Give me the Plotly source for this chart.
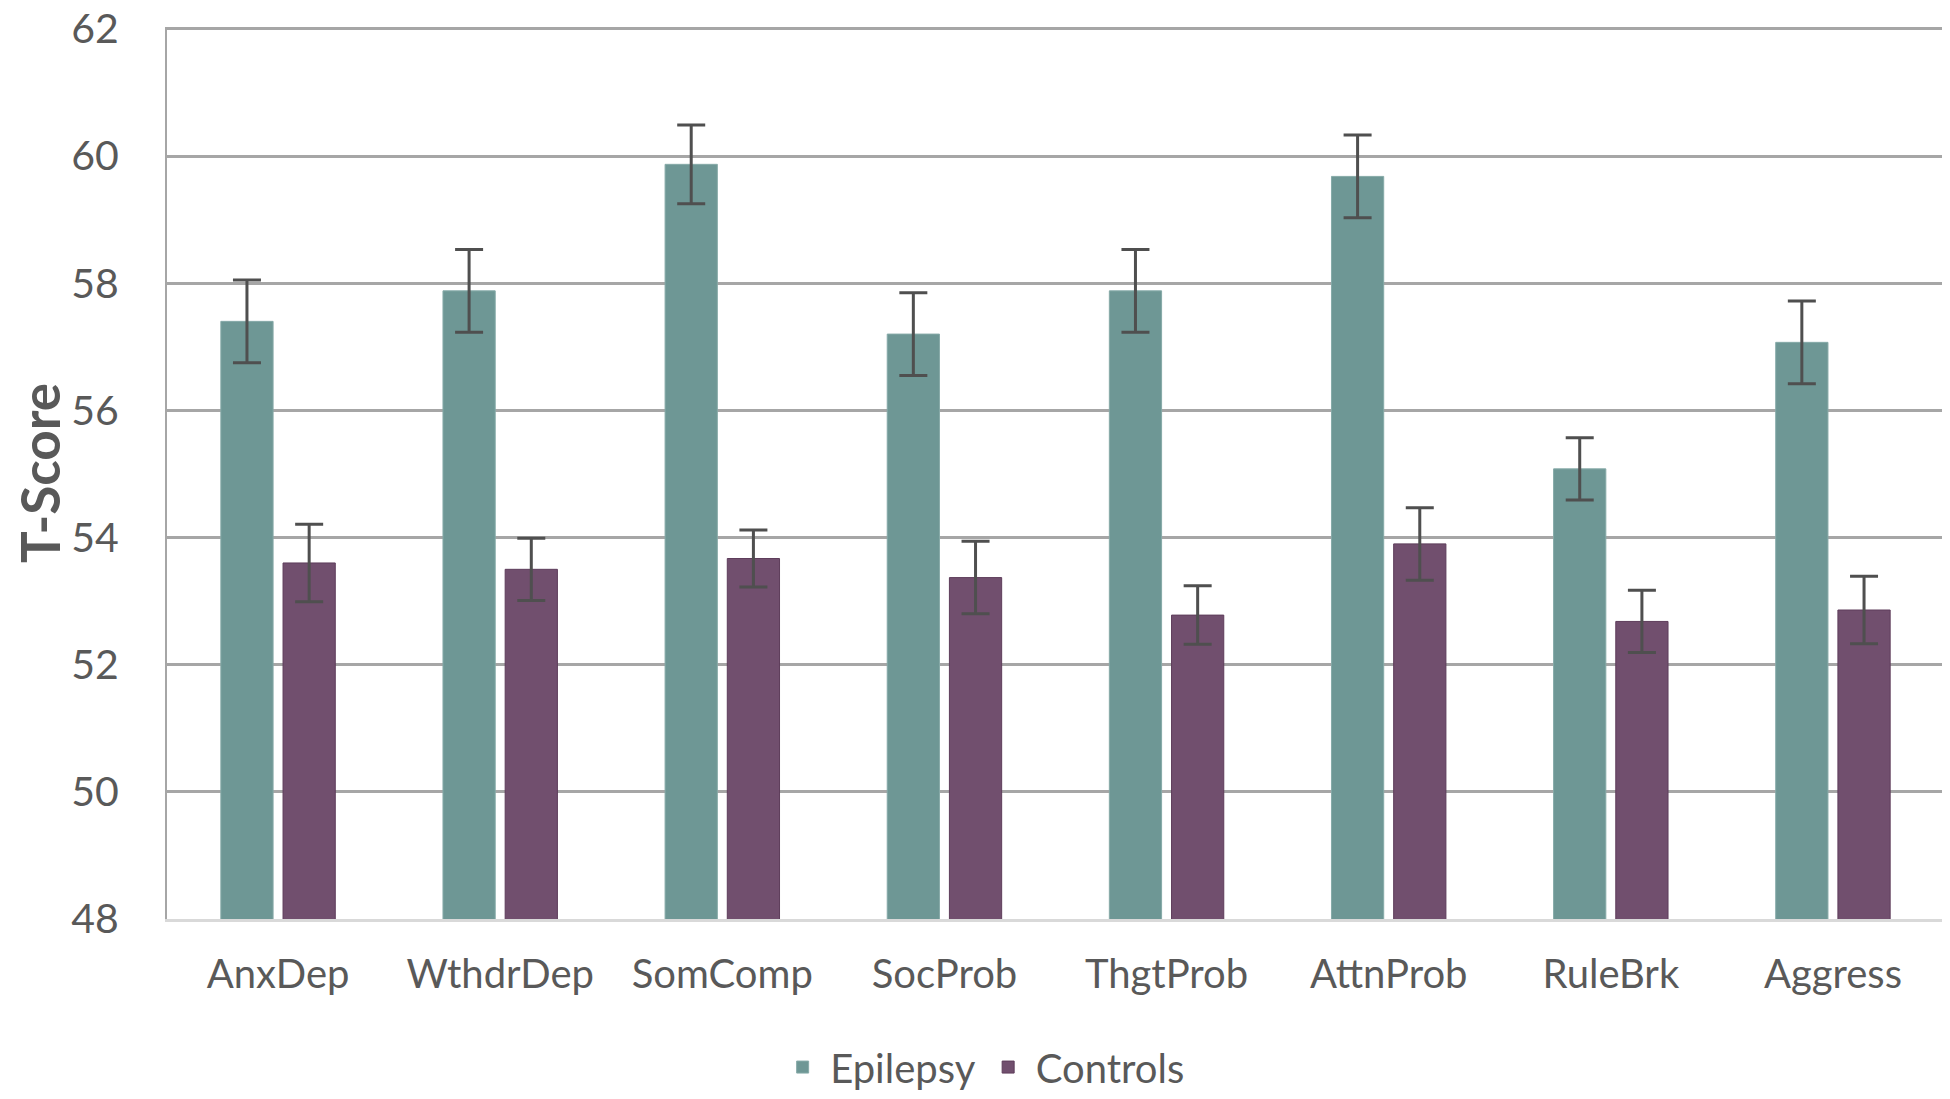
import plotly.graph_objects as go

categories = ["AnxDep", "WthdrDep", "SomComp", "SocProb", "ThgtProb", "AttnProb", "RuleBrk", "Aggress"]
epilepsy = [57.40, 57.88, 59.87, 57.20, 57.88, 59.68, 55.08, 57.07]
epilepsy_err = [0.65, 0.65, 0.62, 0.65, 0.65, 0.65, 0.49, 0.65]
controls = [53.60, 53.50, 53.67, 53.37, 52.78, 53.90, 52.68, 52.86]
controls_err = [0.61, 0.49, 0.45, 0.57, 0.46, 0.57, 0.49, 0.53]
y_ticks = [48, 50, 52, 54, 56, 58, 60, 62]

TEXT = "#595959"
FONT = "Lato"

fig = go.Figure()
fig.add_trace(go.Bar(
    name="Epilepsy", x=categories, y=epilepsy,
    marker=dict(color="#6E9795", line=dict(color="#86AAA8", width=1)),
    error_y=dict(type="data", array=epilepsy_err, color="#4F4F4F", thickness=3, width=14),
))
fig.add_trace(go.Bar(
    name="Controls", x=categories, y=controls,
    marker=dict(color="#714F6E", line=dict(color="#5E3D5B", width=1)),
    error_y=dict(type="data", array=controls_err, color="#4F4F4F", thickness=3, width=14),
))

fig.update_layout(
    width=1950, height=1099,
    margin=dict(l=159, r=14, t=19, b=188, autoexpand=False),
    paper_bgcolor="white", plot_bgcolor="white",
    barmode="group", bargap=0.44, bargroupgap=0.16,
    font=dict(family=FONT, color=TEXT, size=40),
    showlegend=True,
    legend=dict(
        orientation="h", xref="paper", yref="paper",
        x=0.459, xanchor="center", y=-0.166, yanchor="middle",
        font=dict(family=FONT, size=40, color=TEXT),
        tracegroupgap=0, itemwidth=45,
    ),
)
fig.update_xaxes(
    showline=True, linecolor="#D9D9D9", linewidth=3, automargin=False,
    showgrid=False, ticks="", ticklabelstandoff=18,
    tickfont=dict(family=FONT, size=40, color=TEXT),
)
fig.update_yaxes(
    range=[48, 62.03], tickvals=y_ticks, automargin=False,
    showline=True, mirror=True, linecolor="#A6A6A6", linewidth=2,
    showgrid=True, gridcolor="#A6A6A6", gridwidth=2.5,
    zeroline=False, ticks="", ticklabelstandoff=38,
    ticklabeloverflow="allow",
    tickfont=dict(family=FONT, size=41, color=TEXT),
    title=dict(text="<b>T-Score</b>", font=dict(family=FONT, size=53, color=TEXT), standoff=56),
)

fig.write_html("out.html")
